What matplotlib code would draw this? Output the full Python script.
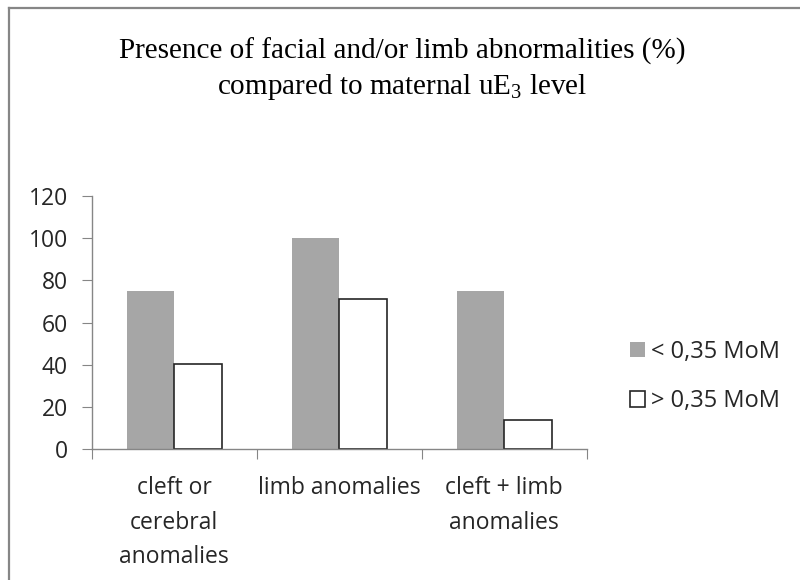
import matplotlib
matplotlib.use("Agg")
import matplotlib.pyplot as plt
import numpy as np
from matplotlib.lines import Line2D

categories = ["cleft or\ncerebral\nanomalies", "limb anomalies", "cleft + limb\nanomalies"]
low_values = [75, 100, 75]
high_values = [40.5, 71, 14]
series_names = ["< 0,35 MoM", "> 0,35 MoM"]
y_ticks = [0, 20, 40, 60, 80, 100, 120]

sans = ["Open Sans", "DejaVu Sans"]
serif = ["Liberation Serif", "DejaVu Serif"]
FS = 16.5

fig = plt.figure(figsize=(8, 5.8), dpi=100)
fig.patch.set_facecolor("white")
# frame of chart area (visible at left and top)
fig.add_artist(Line2D([9 / 800, 9 / 800], [0, 1 - 8 / 580], transform=fig.transFigure,
                      color="#868686", linewidth=1.6))
fig.add_artist(Line2D([9 / 800, 1], [1 - 8 / 580, 1 - 8 / 580], transform=fig.transFigure,
                      color="#868686", linewidth=1.6))

ax = fig.add_axes([0.1146, 0.2253, 0.6188, 0.4367])
x = np.arange(len(categories))
w = 0.287
ax.bar(x - w / 2, low_values, w, color="#A6A6A6", edgecolor="none", label=series_names[0])
ax.bar(x + w / 2, high_values, w, color="white", edgecolor="#262626", linewidth=1.2,
       label=series_names[1])

ax.set_xlim(-0.5, 2.5)
ax.set_ylim(0, 120)
ax.set_yticks(y_ticks)
ax.set_yticklabels([str(v) for v in y_ticks], fontfamily=sans, fontsize=FS, color="#262626")
ax.set_xticks([-0.5, 0.5, 1.5, 2.5])
ax.set_xticklabels([])
ax.set_xticks(x, minor=True)
ax.set_xticklabels(categories, minor=True, fontfamily=sans, fontsize=FS, color="#262626",
                   linespacing=1.58, va="top")
ax.tick_params(axis="x", which="minor", length=0, pad=19.5)
ax.tick_params(axis="x", which="major", length=7, color="#868686", direction="out")
ax.tick_params(axis="y", length=7, color="#868686", direction="out", pad=10)
for s in ["top", "right"]:
    ax.spines[s].set_visible(False)
for s in ["left", "bottom"]:
    ax.spines[s].set_color("#868686")
    ax.spines[s].set_linewidth(1)

leg = ax.legend(loc="center left", bbox_to_anchor=(1.045, 0.288), frameon=False,
                prop={"family": sans, "size": 17}, handlelength=0.64, handleheight=0.64,
                handletextpad=0.25, labelspacing=1.08)
for t in leg.get_texts():
    t.set_color("#262626")

fig.text(0.503, 1 - 59 / 580, "Presence of facial and/or limb abnormalities (%)",
         ha="center", va="baseline", fontfamily=serif, fontsize=21)
fig.text(0.503, 1 - 94 / 580, r"compared to maternal uE$_\mathregular{3}$ level",
         ha="center", va="baseline", fontfamily=serif, fontsize=21)

fig.savefig("out.png", dpi=100)
